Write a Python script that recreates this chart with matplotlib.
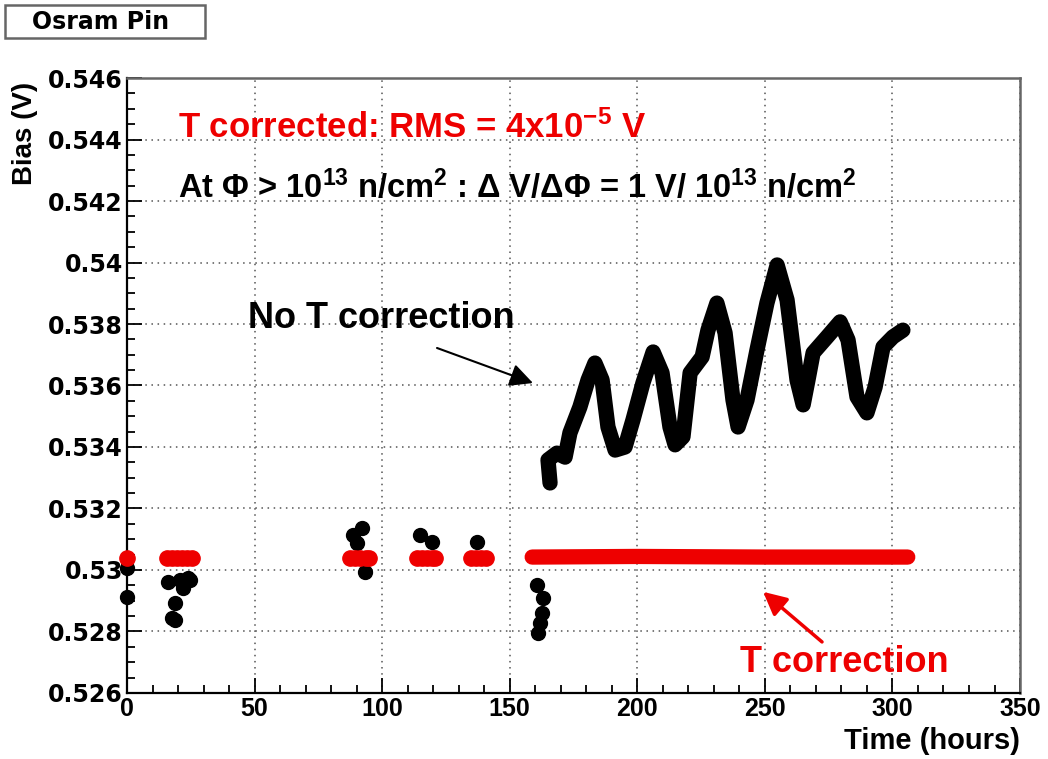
import matplotlib
matplotlib.use('Agg')
import matplotlib.pyplot as plt
from matplotlib.patches import Rectangle
from matplotlib.ticker import MultipleLocator, FuncFormatter

plt.rcParams['font.family'] = ['Liberation Sans', 'DejaVu Sans']
plt.rcParams['font.weight'] = 'bold'
plt.rcParams['mathtext.fontset'] = 'custom'
plt.rcParams['mathtext.rm'] = 'Liberation Sans:bold'
plt.rcParams['mathtext.it'] = 'Liberation Sans:bold'
plt.rcParams['mathtext.bf'] = 'Liberation Sans:bold'

# no T correction: scattered early points (hours, V)
raw_pts_t = [0.0, 0.0, 16.1, 20.8, 23.9, 22.0, 18.8, 17.6, 18.8, 24.7,
             88.6, 92.1, 90.2, 93.3, 114.9, 119.5, 137.2,
             160.7, 163.1, 162.7, 161.1, 161.9]
raw_pts_v = [0.53007, 0.52912, 0.52961, 0.52967, 0.52974, 0.52941, 0.52893, 0.52844, 0.52837, 0.52967,
             0.53114, 0.53137, 0.53088, 0.52994, 0.53114, 0.53091, 0.53091,
             0.52951, 0.52909, 0.52860, 0.52795, 0.52828]

# no T correction: continuous run
raw_line_t = [165.8, 165.0, 168.5, 171.7, 173.6, 177.5, 180.7, 183.4, 186.2, 188.5,
              191.3, 195.2, 198.3, 202.2, 206.2, 209.7, 212.8, 214.8, 217.9, 220.7,
              225.4, 227.7, 231.2, 234.4, 237.5, 239.5, 243.0, 246.9, 250.8, 254.8,
              258.7, 262.6, 265.0, 266.9, 268.9, 274.4, 279.5, 282.6, 286.1, 290.0,
              293.2, 296.3, 300.2, 304.1]
raw_line_v = [0.53283, 0.53358, 0.53380, 0.53367, 0.53446, 0.53530, 0.53618, 0.53673, 0.53618, 0.53465,
              0.53390, 0.53400, 0.53488, 0.53608, 0.53709, 0.53641, 0.53465, 0.53407, 0.53433, 0.53641,
              0.53693, 0.53780, 0.53868, 0.53771, 0.53553, 0.53465, 0.53553, 0.53715, 0.53868, 0.53992,
              0.53878, 0.53618, 0.53537, 0.53618, 0.53706, 0.53758, 0.53807, 0.53748, 0.53563, 0.53511,
              0.53595, 0.53725, 0.53758, 0.53780]

# T corrected
corr_pts_t = [0.0, 15.5, 17.5, 19.5, 21.5, 23.5, 25.5,
              87.5, 89.5, 91.5, 93.5, 95.0,
              113.5, 115.5, 117.5, 119.5, 120.8,
              134.8, 136.8, 138.8, 140.8]
corr_pts_v = [0.53040] * len(corr_pts_t)
corr_line_t = [158.8, 200.0, 250.0, 306.0]
corr_line_v = [0.53042, 0.53044, 0.53042, 0.53042]

fig = plt.figure(figsize=(10.48, 7.59), dpi=100)
ax = fig.add_axes([0.1212, 0.0870, 0.8521, 0.8102])

ax.plot(raw_line_t, raw_line_v, color='black', lw=11,
        solid_capstyle='round', solid_joinstyle='round', zorder=3)
ax.plot(raw_pts_t, raw_pts_v, 'o', color='black', ms=10, mec='black', zorder=3, clip_on=False)
ax.plot(corr_line_t, corr_line_v, color='#ee0000', lw=11,
        solid_capstyle='round', zorder=4)
ax.plot(corr_pts_t, corr_pts_v, 'o', color='#ee0000', ms=11, mec='#ee0000', zorder=4, clip_on=False)

ax.set_xlim(0, 350)
ax.set_ylim(0.526, 0.546)
ax.xaxis.set_major_locator(MultipleLocator(50))
ax.xaxis.set_minor_locator(MultipleLocator(10))
ax.yaxis.set_major_locator(MultipleLocator(0.002))
ax.yaxis.set_minor_locator(MultipleLocator(0.0005))
ax.yaxis.set_major_formatter(FuncFormatter(lambda v, p: '%g' % round(v, 4)))
ax.tick_params(which='both', direction='in', top=False, right=False, width=1.3)
ax.tick_params(which='major', length=11)
ax.tick_params(which='minor', length=6)
ax.tick_params(axis='y', pad=3)
ax.tick_params(axis='x', pad=3)
for lab in ax.get_yticklabels():
    lab.set_fontfamily('DejaVu Sans')
    lab.set_fontweight('bold')
    lab.set_fontsize(17)
for lab in ax.get_xticklabels():
    lab.set_fontsize(18)
    lab.set_fontweight('bold')

ax.grid(True, which='major', ls=(0, (1, 3)), color='#555555', lw=1.1)
for s in ['left', 'bottom']:
    ax.spines[s].set_linewidth(1.6)
for s in ['top', 'right']:
    ax.spines[s].set_linewidth(1.8)
    ax.spines[s].set_color('#666666')

ax.set_xlabel('Time (hours)', fontsize=21, fontweight='bold', loc='right', labelpad=4)
fig.text(25 / 1048, 1 - 82 / 759, 'Bias (V)', rotation=90, ha='center', va='top',
         fontsize=20, fontweight='bold')

ax.text(20.0, 0.54407, r'T corrected: RMS = 4x10$^{-5}$ V', color='#ee0000',
        fontsize=25, fontweight='bold')
ax.text(20.0, 0.54208, r'At $\Phi$ > 10$^{13}$ n/cm$^{2}$ : $\Delta$ V/$\Delta\Phi$ = 1 V/ 10$^{13}$ n/cm$^{2}$',
        color='black', fontsize=23.5, fontweight='bold')
ax.text(47.4, 0.53787, 'No T correction', color='black', fontsize=26, fontweight='bold')
ax.text(240.3, 0.52668, 'T correction', color='#ee0000', fontsize=26, fontweight='bold')

ax.annotate('', xy=(159.1, 0.53608), xytext=(121.5, 0.53722),
            arrowprops=dict(arrowstyle='-|>', color='black', lw=1.5, mutation_scale=35,
                            shrinkA=0, shrinkB=0))
ax.annotate('', xy=(249.3, 0.52929), xytext=(272.4, 0.52766),
            arrowprops=dict(arrowstyle='-|>', color='#ee0000', lw=2.5, mutation_scale=35,
                            shrinkA=0, shrinkB=0))

fig.patches.append(Rectangle((5 / 1048, 1 - 38 / 759), 200 / 1048, 33 / 759,
                             transform=fig.transFigure, facecolor='white',
                             edgecolor='#666666', lw=1.8))
fig.text(101 / 1048, 1 - 22 / 759, 'Osram Pin', ha='center', va='center',
         fontsize=17, fontweight='bold', family='DejaVu Sans')

fig.savefig('out.png', dpi=100)
